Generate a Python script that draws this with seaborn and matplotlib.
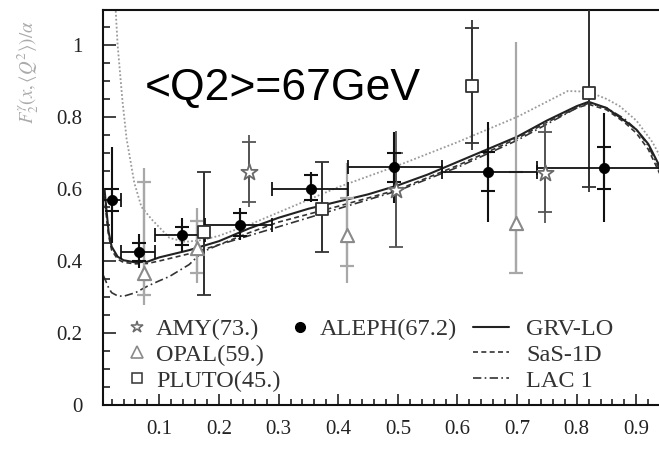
import numpy as np
import pandas as pd
import matplotlib
matplotlib.use("Agg")
import matplotlib.pyplot as plt
from matplotlib.lines import Line2D
from matplotlib.ticker import MultipleLocator
import seaborn as sns

# ---------------- data ----------------
aleph_x = [0.021, 0.066, 0.138, 0.235, 0.355, 0.494, 0.651, 0.845]
aleph_y = [0.57, 0.425, 0.472, 0.50, 0.60, 0.66, 0.647, 0.658]
aleph_xlo = [0.006, 0.036, 0.093, 0.177, 0.289, 0.417, 0.574, 0.734]
aleph_xhi = [0.036, 0.093, 0.177, 0.289, 0.417, 0.574, 0.734, 0.96]
aleph_tot_hi = [0.717, 0.475, 0.52, 0.547, 0.647, 0.758, 0.786, 0.81]
aleph_tot_lo = [0.45, 0.38, 0.425, 0.458, 0.563, 0.56, 0.508, 0.508]
aleph_st_hi = [0.60, 0.45, 0.494, 0.533, 0.64, 0.70, 0.703, 0.717]
aleph_st_lo = [0.54, 0.40, 0.444, 0.47, 0.57, 0.62, 0.594, 0.60]

amy_x = [0.250, 0.497, 0.747]
amy_y = [0.647, 0.597, 0.644]
amy_tot_hi = [0.75, 0.76, 0.786]
amy_tot_lo = [0.55, 0.44, 0.505]
amy_st_hi = [0.73, 0.70, 0.758]
amy_st_lo = [0.565, 0.44, 0.536]

opal_x = [0.0745, 0.163, 0.415, 0.698]
opal_y = [0.367, 0.436, 0.472, 0.505]
opal_tot_hi = [0.658, 0.547, 0.672, 1.008]
opal_tot_lo = [0.278, 0.34, 0.34, 0.367]
opal_st_hi = [0.62, 0.51, 0.575, 0.647]
opal_st_lo = [0.305, 0.367, 0.386, 0.367]

pluto_x = [0.175, 0.373, 0.625, 0.821]
pluto_y = [0.48, 0.544, 0.886, 0.867]
pluto_tot_hi = [0.647, 0.675, 1.07, 1.2]
pluto_tot_lo = [0.305, 0.425, 0.708, 0.592]
pluto_st_hi = [0.647, 0.675, 1.047, 1.2]
pluto_st_lo = [0.305, 0.425, 0.728, 0.606]

grv_x = [0.008, 0.012, 0.015, 0.02, 0.03, 0.04, 0.06, 0.08, 0.1, 0.15, 0.2, 0.25, 0.3,
         0.35, 0.4, 0.45, 0.5, 0.55, 0.6, 0.65, 0.7, 0.75, 0.8, 0.82, 0.85, 0.88, 0.9,
         0.92, 0.94]
grv_y = [0.60, 0.53, 0.48, 0.44, 0.412, 0.402, 0.396, 0.398, 0.41, 0.43, 0.455, 0.49,
         0.52, 0.545, 0.565, 0.585, 0.61, 0.64, 0.675, 0.71, 0.745, 0.79, 0.83, 0.842,
         0.825, 0.79, 0.765, 0.725, 0.66]

sas_x = [0.008, 0.012, 0.015, 0.02, 0.03, 0.04, 0.06, 0.08, 0.1, 0.15, 0.2, 0.25, 0.3,
         0.4, 0.5, 0.6, 0.7, 0.75, 0.8, 0.82, 0.85, 0.88, 0.9, 0.92, 0.94]
sas_y = [0.58, 0.51, 0.47, 0.43, 0.405, 0.396, 0.392, 0.393, 0.40, 0.42, 0.445, 0.478,
         0.508, 0.552, 0.598, 0.665, 0.74, 0.785, 0.825, 0.835, 0.82, 0.785, 0.755,
         0.71, 0.64]

lac_x = [0.006, 0.01, 0.015, 0.02, 0.03, 0.04, 0.06, 0.08, 0.1, 0.117, 0.15, 0.172,
         0.2, 0.25, 0.3, 0.4, 0.5, 0.6, 0.7, 0.8, 0.82, 0.85, 0.88, 0.9, 0.92, 0.94]
lac_y = [0.36, 0.345, 0.325, 0.312, 0.303, 0.302, 0.312, 0.33, 0.345, 0.357, 0.39,
         0.425, 0.445, 0.47, 0.495, 0.545, 0.595, 0.66, 0.735, 0.825, 0.838, 0.825,
         0.795, 0.765, 0.72, 0.65]

dot_x = [0.022, 0.027, 0.03, 0.038, 0.045, 0.058, 0.07, 0.088, 0.117, 0.143, 0.172,
         0.2, 0.25, 0.3, 0.4, 0.5, 0.6, 0.7, 0.785, 0.82, 0.85, 0.872, 0.9, 0.927, 0.94]
dot_y = [1.25, 1.09, 1.0, 0.847, 0.74, 0.617, 0.55, 0.514, 0.464, 0.453, 0.458, 0.47,
         0.50, 0.535, 0.605, 0.665, 0.73, 0.80, 0.872, 0.87, 0.85, 0.83, 0.79, 0.73, 0.69]

x_ticks = [0.1, 0.2, 0.3, 0.4, 0.5, 0.6, 0.7, 0.8, 0.9]
y_ticks = [0, 0.2, 0.4, 0.6, 0.8, 1.0]
y_tick_labels = ["0", "0.2", "0.4", "0.6", "0.8", "1"]

# ---------------- style ----------------
sns.set_theme(style="ticks")
plt.rcParams["font.family"] = ["Liberation Serif", "DejaVu Serif"]
plt.rcParams["mathtext.fontset"] = "stix"

W, H = 659, 454
fig = plt.figure(figsize=(W / 100, H / 100), dpi=100)
ax = fig.add_axes([103 / W, (H - 405) / H, (W - 103) / W, 395 / H])

# ---------------- curves ----------------
curves = [
    (dot_x, dot_y, dict(color="#9a9a9a", linestyle=(0, (1, 1.2)), linewidth=1.3)),
    (lac_x, lac_y, dict(color="#333333", linestyle=(0, (5, 2, 1, 2)), linewidth=1.2)),
    (sas_x, sas_y, dict(color="#333333", linestyle=(0, (3, 2)), linewidth=1.2)),
    (grv_x, grv_y, dict(color="#222222", linestyle="-", linewidth=1.5)),
]
for cx, cy, kw in curves:
    df = pd.DataFrame({"x": cx, "y": cy})
    sns.lineplot(data=df, x="x", y="y", ax=ax, sort=False, estimator=None, **kw)


def asym(y, hi, lo):
    y = np.asarray(y); hi = np.asarray(hi); lo = np.asarray(lo)
    return np.vstack([y - lo, hi - y])


def draw_set(x, y, tot_hi, tot_lo, st_hi, st_lo, color, lw, cap, z):
    ax.errorbar(x, y, yerr=asym(y, tot_hi, tot_lo), fmt="none", ecolor=color,
                elinewidth=lw, capsize=0, zorder=z)
    ax.errorbar(x, y, yerr=asym(y, st_hi, st_lo), fmt="none", ecolor=color,
                elinewidth=lw, capsize=cap, capthick=lw, zorder=z)


draw_set(opal_x, opal_y, opal_tot_hi, opal_tot_lo, opal_st_hi, opal_st_lo,
         "#a8a8a8", 1.6, 5, 3)
draw_set(amy_x, amy_y, amy_tot_hi, amy_tot_lo, amy_st_hi, amy_st_lo,
         "#555555", 1.3, 5, 3)
draw_set(pluto_x, pluto_y, pluto_tot_hi, pluto_tot_lo, pluto_st_hi, pluto_st_lo,
         "#333333", 1.3, 5, 3)
ax.errorbar(aleph_x, aleph_y,
            xerr=np.vstack([np.array(aleph_x) - np.array(aleph_xlo),
                            np.array(aleph_xhi) - np.array(aleph_x)]),
            fmt="none", ecolor="#111111", elinewidth=1.3, capsize=5, capthick=1.3, zorder=4)
draw_set(aleph_x, aleph_y, aleph_tot_hi, aleph_tot_lo, aleph_st_hi, aleph_st_lo,
         "#111111", 1.5, 5, 4)

sns.scatterplot(x=opal_x, y=opal_y, ax=ax, marker="^", s=90, facecolor="white",
                edgecolor="#8a8a8a", linewidth=1.5, zorder=6)
sns.scatterplot(x=amy_x, y=amy_y, ax=ax, marker="*", s=150, facecolor="white",
                edgecolor="#6a6a6a", linewidth=1.3, zorder=6)
sns.scatterplot(x=pluto_x, y=pluto_y, ax=ax, marker="s", s=75, facecolor="white",
                edgecolor="#333333", linewidth=1.3, zorder=6)
sns.scatterplot(x=aleph_x, y=aleph_y, ax=ax, marker="o", s=55, color="black",
                edgecolor="black", linewidth=0.5, zorder=7)

# ---------------- axes ----------------
ax.set_xlim(0.0055, 0.938)
ax.set_ylim(0, 1.097)
ax.set_xticks(x_ticks)
ax.set_xticklabels([f"{v:g}" for v in x_ticks])
ax.set_yticks(y_ticks)
ax.set_yticklabels(y_tick_labels)
ax.xaxis.set_minor_locator(MultipleLocator(0.02))
ax.yaxis.set_minor_locator(MultipleLocator(0.05))
ax.tick_params(which="both", direction="in", top=False, right=False, colors="#222222",
               labelsize=15, width=1.2)
ax.tick_params(axis="y", which="major", length=9, pad=15)
ax.tick_params(axis="y", which="minor", length=5)
ax.tick_params(axis="x", which="major", length=8, pad=11)
ax.tick_params(axis="x", which="minor", length=4)
for s in ["left", "bottom", "top"]:
    ax.spines[s].set_linewidth(1.5)
    ax.spines[s].set_color("#111111")
ax.spines["right"].set_visible(False)
ax.set_xlabel("")
ax.set_ylabel("")

fig.text(28 / W, 1 - 72 / H, r"$F_2^{\gamma}(x,\langle Q^2\rangle)/\alpha$",
         rotation=90, ha="center", va="center", fontsize=13.5, color="#aaaaaa")

ax.text(145 / W, 1 - 100 / H, "<Q2>=67GeV", transform=fig.transFigure,
        ha="left", va="baseline", fontsize=32, family="Liberation Sans", color="black")

# ---------------- legends ----------------
mk = [
    Line2D([], [], marker="*", ls="none", ms=9, mfc="white", mec="#6a6a6a", mew=1.1),
    Line2D([], [], marker="^", ls="none", ms=8, mfc="white", mec="#8a8a8a", mew=1.2),
    Line2D([], [], marker="s", ls="none", ms=7, mfc="white", mec="#333333", mew=1.1),
    Line2D([], [], marker="o", ls="none", ms=7, color="black"),
    Line2D([], [], ls="none"),
    Line2D([], [], ls="none"),
]
mk_labels = ["AMY(73.)", "OPAL(59.)", "PLUTO(45.)", "ALEPH(67.2)", "", ""]
leg1 = fig.legend(mk, mk_labels, ncol=2, loc="upper left",
                  bbox_to_anchor=(127 / W, 1 - 318 / H), frameon=False,
                  fontsize=17.5, handlelength=0.8, handletextpad=0.4,
                  columnspacing=0.4, labelspacing=0.16, borderpad=0, borderaxespad=0)
for t in leg1.get_texts():
    t.set_color("#333333")

ln = [
    Line2D([], [], color="#222222", ls="-", lw=1.5),
    Line2D([], [], color="#333333", ls=(0, (3, 2)), lw=1.2),
    Line2D([], [], color="#333333", ls=(0, (5, 2, 1, 2)), lw=1.2),
]
leg2 = fig.legend(ln, ["GRV-LO", "SaS-1D", "LAC 1"], loc="upper left",
                  bbox_to_anchor=(473 / W, 1 - 318 / H), frameon=False,
                  fontsize=17.5, handlelength=1.5, handletextpad=0.7,
                  labelspacing=0.16, borderpad=0, borderaxespad=0)
for t in leg2.get_texts():
    t.set_color("#333333")

fig.savefig("out.png", dpi=100)
